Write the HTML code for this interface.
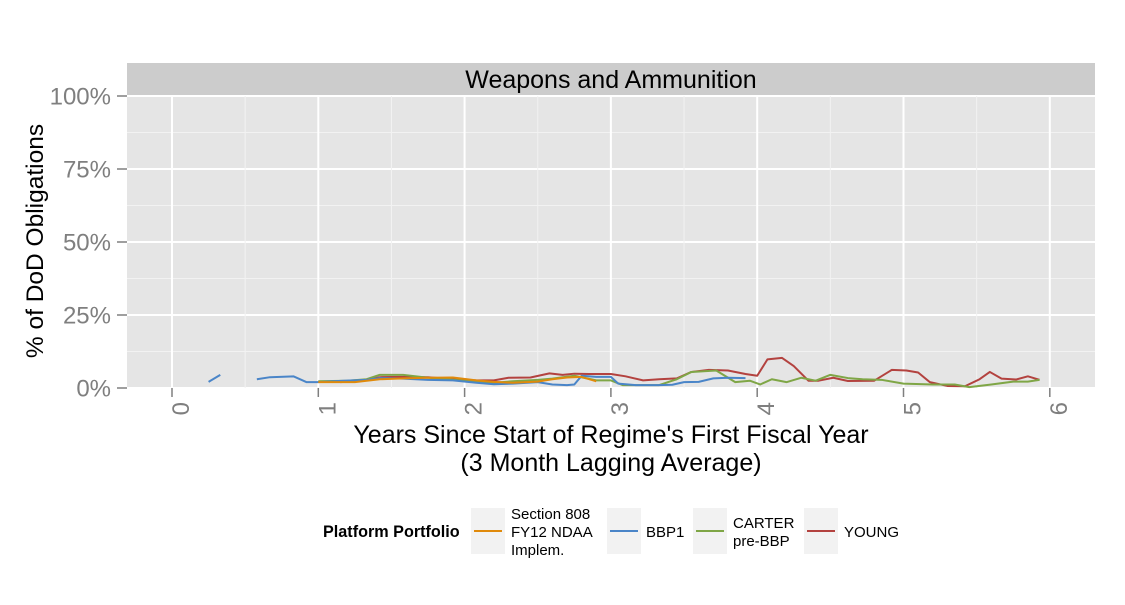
<!DOCTYPE html>
<html><head><meta charset="utf-8"><style>
body{margin:0;background:#fff;font-family:"Liberation Sans",Arial,sans-serif}
</style></head><body>
<svg id="c" width="1125" height="600" xmlns="http://www.w3.org/2000/svg" font-family="Liberation Sans, Arial, sans-serif">
<rect width="1125" height="600" fill="#fff"/>
<rect x="127" y="63" width="968" height="33" fill="#cccccc"/>
<text x="611" y="88" font-size="25" text-anchor="middle" fill="#000">Weapons and Ammunition</text>
<rect x="127" y="96" width="968" height="292" fill="#e5e5e5"/>
<g id="grid"></g>
<g id="series"></g>
<g id="axes"></g>
<text transform="translate(43,241) rotate(-90)" font-size="24.5" text-anchor="middle">% of DoD Obligations</text>
<text x="611" y="443" font-size="25" text-anchor="middle">Years Since Start of Regime's First Fiscal Year</text>
<text x="611" y="471" font-size="25" text-anchor="middle">(3 Month Lagging Average)</text>
<g>
<text x="323" y="537" font-size="16.2" font-weight="bold">Platform Portfolio</text>
<g><rect x="471" y="508" width="34" height="46" fill="#f2f2f2"/><line x1="474" x2="502" y1="531" y2="531" stroke="#e08a0b" stroke-width="2"/>
<text font-size="15" fill="#000"><tspan x="511" y="519">Section 808</tspan><tspan x="511" y="537">FY12 NDAA</tspan><tspan x="511" y="555">Implem.</tspan></text></g>
<g><rect x="607" y="508" width="34" height="46" fill="#f2f2f2"/><line x1="610" x2="638" y1="531" y2="531" stroke="#4a85c8" stroke-width="2"/><text x="646" y="537" font-size="15">BBP1</text></g>
<g><rect x="693" y="508" width="34" height="46" fill="#f2f2f2"/><line x1="696" x2="724" y1="531" y2="531" stroke="#7fa646" stroke-width="2"/><text font-size="15"><tspan x="733" y="528">CARTER</tspan><tspan x="733" y="546">pre-BBP</tspan></text></g>
<g><rect x="804" y="508" width="34" height="46" fill="#f2f2f2"/><line x1="807" x2="835" y1="531" y2="531" stroke="#b3423f" stroke-width="2"/><text x="844" y="537" font-size="15">YOUNG</text></g>
</g>
</svg>
<script>
const xTicks=[0,1,2,3,4,5,6];
const yTicks=[0,25,50,75,100];
const yTickLabels=["0%","25%","50%","75%","100%"];
const bbp1A=[[0.25,2.1],[0.33,4.5]];
const bbp1B=[[0.58,3],[0.67,3.7],[0.83,4],[0.92,2],[1.0,2],[1.17,2.5],[1.33,2.8],[1.42,3.4],[1.58,3.2],[1.75,2.8],[1.92,2.6],[2.08,1.8],[2.2,1.3],[2.33,1.5],[2.5,2],[2.6,1.2],[2.7,1],[2.75,1.2],[2.8,4.2],[2.9,3.8],[3.0,3.8],[3.05,1.5],[3.17,1],[3.33,1],[3.42,1.1],[3.5,2],[3.6,2.1],[3.7,3.3],[3.8,3.5],[3.92,3.4]];
const section808=[[1.0,2],[1.25,2],[1.42,3],[1.58,3.3],[1.75,3.5],[1.92,3.6],[2.08,2.6],[2.2,2.1],[2.33,1.8],[2.5,2.2],[2.6,3],[2.7,3.6],[2.8,3.8],[2.9,2.3]];
const carter=[[1.0,2.3],[1.2,2.5],[1.33,3],[1.42,4.5],[1.58,4.5],[1.75,3.5],[2.0,2.5],[2.2,1.8],[2.33,2.3],[2.5,2.8],[2.6,3.2],[2.75,4.2],[2.9,2.6],[3.0,2.6],[3.08,1],[3.33,1],[3.45,3],[3.55,5.5],[3.72,6],[3.85,2],[3.95,2.5],[4.02,1.2],[4.1,3],[4.2,2],[4.3,3.5],[4.4,2.5],[4.5,4.5],[4.62,3.4],[4.72,3],[4.85,2.8],[5.0,1.5],[5.2,1.2],[5.35,1.2],[5.45,0.3],[5.6,1.2],[5.75,2.2],[5.85,2.2],[5.93,2.8]];
const young=[[1.15,2],[1.3,2.5],[1.42,3.7],[1.58,3.8],[1.75,3.7],[1.92,3],[2.08,2.6],[2.2,2.6],[2.3,3.5],[2.45,3.6],[2.58,5],[2.67,4.5],[2.75,4.9],[2.85,4.8],[3.0,4.8],[3.1,4],[3.22,2.6],[3.33,3],[3.45,3.3],[3.55,5.5],[3.67,6.2],[3.8,6],[3.92,4.8],[4.0,4.2],[4.07,9.8],[4.17,10.3],[4.25,7.5],[4.35,2.5],[4.42,2.5],[4.52,3.5],[4.62,2.4],[4.8,2.5],[4.92,6.2],[5.02,6],[5.1,5.3],[5.18,2],[5.3,0.7],[5.42,0.6],[5.52,3],[5.59,5.5],[5.67,3.2],[5.77,2.9],[5.85,4],[5.93,2.8]];

const svg=document.getElementById('c'),NS='http://www.w3.org/2000/svg';
const X=v=>172+v*146.3, Y=v=>388-v*2.92;
function mk(t,a,p){const e=document.createElementNS(NS,t);for(const k in a)e.setAttribute(k,a[k]);p.appendChild(e);return e;}
const grid=document.getElementById('grid'),axes=document.getElementById('axes'),ser=document.getElementById('series');
for(let i=0;i<yTicks.length;i++){
 if(i<yTicks.length-1){const m=(yTicks[i]+yTicks[i+1])/2;const g=mk('line',{x1:127,x2:1095,y1:Y(m),y2:Y(m),stroke:'#f2f2f2','stroke-width':1},grid);
 
 }
 const l=mk('line',{x1:127,x2:1095,y1:Y(yTicks[i]),y2:Y(yTicks[i]),stroke:'#fff','stroke-width':2},grid);
 
 
 const t=mk('line',{x1:117,x2:127,y1:Y(yTicks[i]),y2:Y(yTicks[i]),stroke:'#7f7f7f','stroke-width':1.5},axes);
 
 
 const tx=mk('text',{x:111,y:Y(yTicks[i])+8.5,'font-size':24,'text-anchor':'end',fill:'#7f7f7f'},axes);tx.textContent=yTickLabels[i];
 
 
}
for(let i=0;i<xTicks.length;i++){
 if(i<xTicks.length-1){const m=(xTicks[i]+xTicks[i+1])/2;const g=mk('line',{x1:X(m),x2:X(m),y1:96,y2:388,stroke:'#f2f2f2','stroke-width':1},grid);
 
 }
 const l=mk('line',{x1:X(xTicks[i]),x2:X(xTicks[i]),y1:96,y2:388,stroke:'#fff','stroke-width':2},grid);
 
 
 const t=mk('line',{x1:X(xTicks[i]),x2:X(xTicks[i]),y1:388,y2:397,stroke:'#7f7f7f','stroke-width':1.5},axes);
 
 
 const tx=mk('text',{transform:`translate(${X(xTicks[i])+17},${402}) rotate(-90)`,'font-size':24,'text-anchor':'end',fill:'#7f7f7f'},axes);tx.textContent=String(xTicks[i]);
 
 
}
function line(d,c,n){const p=mk('polyline',{points:d.map(q=>X(q[0])+','+Y(q[1])).join(' '),fill:'none',stroke:c,'stroke-width':2,'stroke-linejoin':'round'},ser);
 
 }
line(young,'#b3423f','series-young');
line(carter,'#7fa646','series-carter');
line(bbp1A,'#4a85c8','series-bbp1-a');
line(bbp1B,'#4a85c8','series-bbp1-b');
line(section808,'#e08a0b','series-section808');
</script>
</body></html>
